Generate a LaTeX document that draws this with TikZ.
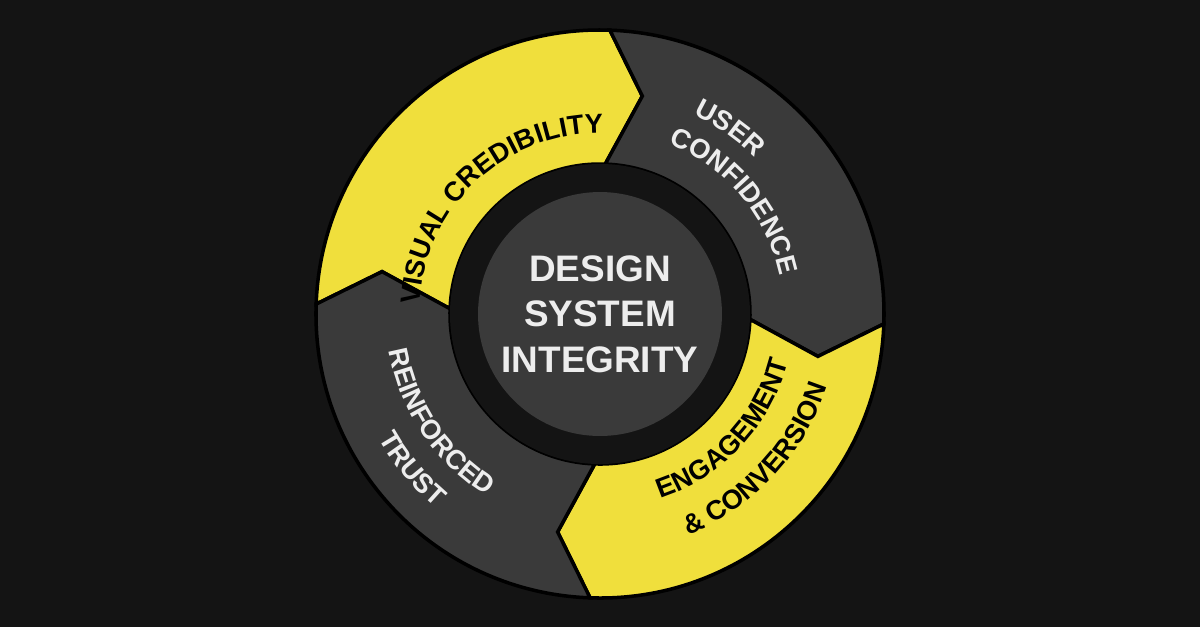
\documentclass[tikz,border=0pt]{standalone}
\usepackage{fontspec}
\newfontfamily\lbl{Liberation Sans}
\usetikzlibrary{decorations.text}
\definecolor{bg}{HTML}{141414}
\definecolor{yel}{HTML}{F0DF3C}
\definecolor{drk}{HTML}{3A3A3A}
\definecolor{wht}{HTML}{EDEDED}
\newcommand\lblfont{\lbl\bfseries\fontsize{15.5}{15.5}\selectfont}
\tikzset{seg/.style={draw=black,line width=2pt,line join=miter},
 arctext/.style={decorate,decoration={text along path,text align=center,text={#1}}}}
\newcommand\segm[3]{%
 \fill[#3,seg] (#1:284) arc[start angle=#1,end angle=#2,radius=284] -- (#2-9:222) -- (#2:150)
   arc[start angle=#2,end angle=#1,radius=150] -- (#1-9:222) -- cycle;}
\begin{document}
\begin{tikzpicture}[x=0.02cm,y=0.02cm]
\fill[bg] (-600,-313) rectangle (600,314);
\useasboundingbox (-600,-313) rectangle (600,314);
\segm{178}{88}{yel}
\segm{88}{-2}{drk}
\segm{-2}{-92}{yel}
\segm{-92}{-182}{drk}
\fill[bg] (0,0) circle[radius=150];
\node[circle,fill=drk,minimum size=4.88cm,inner sep=0pt,text=wht,align=center,font=\lbl\bfseries\fontsize{21}{26}\selectfont] (c) at (0,0) {DESIGN\\SYSTEM\\INTEGRITY};
\path[arctext={|\lblfont|VISUAL CREDIBILITY}] (186:181) arc[start angle=186,end angle=80,radius=181];
\path[arctext={|\lblfont\color{wht}|USER}] (80:220) arc[start angle=80,end angle=30,radius=220];
\path[arctext={|\lblfont\color{wht}|CONFIDENCE}] (85:184) arc[start angle=85,end angle=-5,radius=184];
\path[arctext={|\lblfont|ENGAGEMENT}] (-90:194) arc[start angle=-90,end angle=4,radius=194];
\path[arctext={|\lblfont|{\&} CONVERSION}] (-90:238) arc[start angle=-90,end angle=4,radius=238];
\path[arctext={|\lblfont\color{wht}|REINFORCED}] (170:214) arc[start angle=170,end angle=258,radius=214];
\path[arctext={|\lblfont\color{wht}|TRUST}] (175:254) arc[start angle=175,end angle=264,radius=254];
\end{tikzpicture}
\end{document}
